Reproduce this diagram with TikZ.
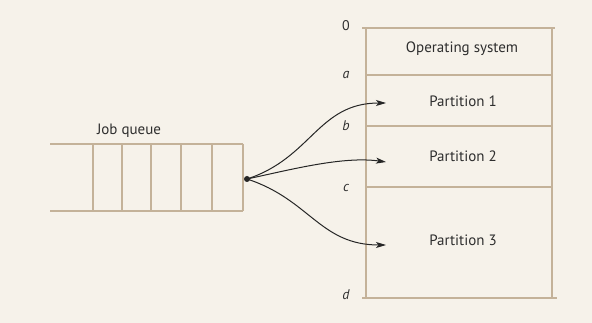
\documentclass[tikz,border=0pt]{standalone}
\usepackage{fontspec}
\setmainfont{PT Sans}
\usetikzlibrary{arrows.meta}
\definecolor{paper}{HTML}{F6F2EA}
\definecolor{rule}{HTML}{C4B299}
\definecolor{ink}{HTML}{2E2E2E}
\tikzset{
  memline/.style={draw=rule, line width=1.3pt},
  addr/.style={text=ink, font=\fontsize{14}{15}\selectfont\itshape, anchor=center},
  part/.style={text=ink, font=\fontsize{15}{17}\selectfont, anchor=center},
  feed/.style={draw=black!85, line width=1pt, -{Stealth[length=10pt,width=6pt,inset=2.5pt]}},
}
\begin{document}
\begin{tikzpicture}[x=1pt,y=-1pt]
  % paper background and fixed frame
  \fill[paper] (0,0) rectangle (592,323);
  \useasboundingbox (0,0) rectangle (592,323);

  % job queue
  \draw[memline] (50,144) -- (243,144);
  \draw[memline] (50,211) -- (243,211);
  \foreach \x in {93,122,151,181,212,243}
    \draw[memline] (\x,144) -- (\x,211);
  \node[part] (jq) at (129,131) {Job queue};
  \fill[black!85] (247,179) circle (3pt);
  \coordinate (src) at (247,179);

  % memory partitions
  \draw[memline] (366,28) -- (366,298);
  \draw[memline] (552,28) -- (552,298);
  \draw[memline] (362,28) -- (555,28);
  \draw[memline] (366,75) -- (552,75);
  \draw[memline] (366,126) -- (552,126);
  \draw[memline] (366,187) -- (552,187);
  \draw[memline] (362,298) -- (557,298);

  \node[addr, font=\fontsize{14}{15}\selectfont] (a0) at (346,26) {0};
  \node[addr] (aa) at (346,75) {a};
  \node[addr] (ab) at (346,126) {b};
  \node[addr] (ac) at (346,188) {c};
  \node[addr] (ad) at (346,295) {d};

  \node[part] (os) at (462,49) {Operating system};
  \node[part] (p1) at (463,101) {Partition 1};
  \node[part] (p2) at (463,156) {Partition 2};
  \node[part] (p3) at (463,240) {Partition 3};

  % job dispatch arrows
  \coordinate (t1) at (386,103);
  \coordinate (t2) at (386,162);
  \coordinate (t3) at (386,245);
  \draw[feed] (src) to[out=18, in=180, looseness=1.1] (t1);
  \draw[feed] (src) to[out=12, in=172, looseness=0.8] (t2);
  \draw[feed] (src) to[out=-18, in=180, looseness=1.1] (t3);
\end{tikzpicture}
\end{document}
